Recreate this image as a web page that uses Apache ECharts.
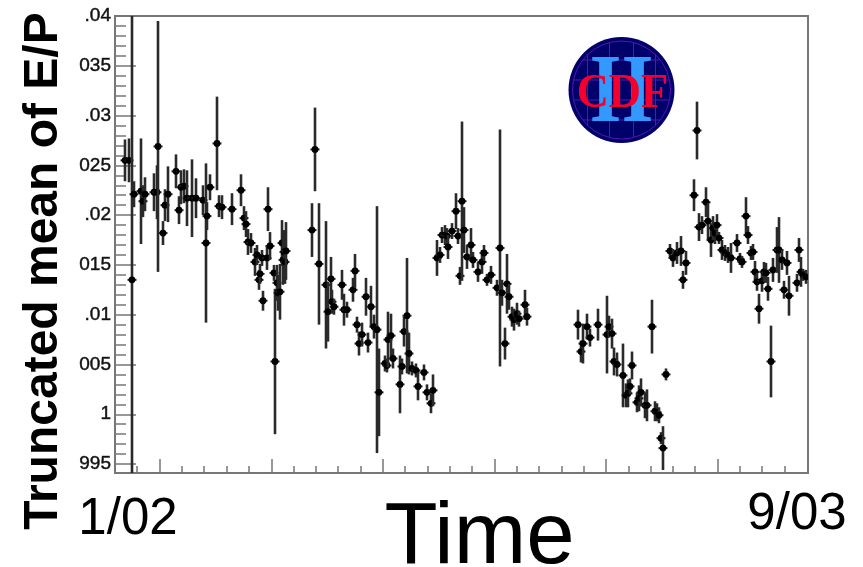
<!DOCTYPE html>
<html>
<head>
<meta charset="utf-8">
<script src="https://cdn.jsdelivr.net/npm/echarts@6/dist/echarts.min.js"></script>
<style>html,body{margin:0;padding:0;background:#fff}#c{width:863px;height:567px}</style>
</head>
<body>
<div id="c"></div>
<script>
// Time since the start of the axis range, in days
const days = [10,14,17,19,26,28,30,39,42,43,48,50,53,61,64,66,69,72,77,81,88,91,92,95,102,104,107,117,126,129,131,133,136,140,142,144,145,147,148,152,153,155,159,160,162,163,165,167,168,169,170,171,
197,200,204,211,213,216,217,219,227,229,232,238,240,242,244,247,251,253,256,259,262,264,270,272,273,276,278,285,287,289,292,294,297,301,303,309,312,316,318,
322,325,327,330,332,333,337,341,343,345,347,349,352,356,358,363,367,369,372,376,382,385,387,390,392,394,397,399,402,404,410,412,
463,466,468,472,475,483,492,494,497,499,502,508,511,513,515,517,522,524,526,530,532,537,540,542,544,546,548,551,
555,558,562,566,568,571,579,582,584,587,591,593,596,598,600,602,604,607,610,613,616,622,625,627,631,633,636,638,640,642,644,647,649,651,653,656,658,662,664,667,669,672,674,682,684,686,688,691];
// Truncated mean of E/P
const truncatedMean = [1.0255,1.0255,1.0135,1.0221,1.0224,1.0214,1.0221,1.0223,1.0223,1.0269,1.0182,1.0210,1.0221,1.0244,1.0205,1.0228,1.0229,1.0217,1.0217,1.0217,1.0215,1.0172,1.0199,1.0228,1.0272,1.0209,1.0208,1.0206,1.0225,1.0197,1.0191,1.0173,1.0172,1.0153,1.0160,1.0135,1.0141,1.0157,1.0114,1.0157,1.0206,1.0169,1.0142,1.0053,1.0132,1.0122,1.0123,1.0172,1.0155,1.0163,1.0153,1.0164,
1.0185,1.0266,1.0151,1.0130,1.0103,1.0136,1.0113,1.0108,1.0130,1.0105,1.0105,1.0125,1.0144,1.0090,1.0071,1.0080,1.0118,1.0072,1.0108,1.0088,1.0085,1.0022,1.0051,1.0049,1.0075,1.0079,1.0056,1.0030,1.0048,1.0083,1.0099,1.0061,1.0046,1.0044,1.0028,1.0042,1.0022,1.0011,1.0024,
1.0157,1.0160,1.0180,1.0180,1.0179,1.0168,1.0184,1.0204,1.0179,1.0139,1.0214,1.0185,1.0158,1.0170,1.0155,1.0143,1.0153,1.0162,1.0135,1.0140,1.0127,1.0167,1.0122,1.0071,1.0131,1.0118,1.0098,1.0095,1.0101,1.0096,1.0110,1.0098,
1.0090,1.0063,1.0071,1.0088,1.0077,1.0090,1.0080,1.0088,1.0081,1.0053,1.0050,1.0039,1.0019,1.0021,1.0028,1.0049,1.0012,1.0016,1.0022,1.0009,1.0009,1.0088,1.0003,1.0002,0.9999,0.9976,0.9966,1.0040,
1.0164,1.0157,1.0162,1.0164,1.0135,1.0152,1.0220,1.0285,1.0188,1.0190,1.0213,1.0194,1.0175,1.0187,1.0182,1.0190,1.0177,1.0165,1.0162,1.0160,1.0157,1.0172,1.0156,1.0153,1.0199,1.0180,1.0162,1.0163,1.0143,1.0133,1.0106,1.0134,1.0143,1.0142,1.0126,1.0053,1.0145,1.0165,1.0165,1.0155,1.0125,1.0152,1.0119,1.0132,1.0165,1.0143,1.0140,1.0138];
// Symmetric error on the mean
const errors = [.0021,.0022,.0266,.0013,.0053,.0016,.0017,.0019,.0027,.0126,.0012,.0016,.0028,.0017,.0014,.0017,.0017,.0028,.0039,.0020,.0015,.0080,.0014,.0013,.0047,.0011,.0012,.0016,.0016,.0012,.0013,.0013,.0010,.0014,.0010,.0010,.0010,.0008,.0010,.0012,.0022,.0014,.0008,.0073,.0018,.0018,.0028,.0023,.0025,.0022,.0022,.0029,
.0027,.0042,.0061,.0064,.0030,.0022,.0012,.0008,.0015,.0016,.0008,.0012,.0017,.0008,.0012,.0012,.0019,.0010,.0021,.0012,.0124,.0044,.0008,.0007,.0028,.0022,.0010,.0029,.0008,.0015,.0058,.0021,.0007,.0007,.0014,.0008,.0008,.0010,.0016,
.0018,.0008,.0008,.0010,.0008,.0012,.0008,.0018,.0008,.0009,.0080,.0023,.0012,.0017,.0008,.0010,.0012,.0008,.0006,.0009,.0008,.0119,.0013,.0016,.0030,.0013,.0010,.0011,.0011,.0008,.0015,.0009,
.0015,.0011,.0020,.0013,.0009,.0016,.0039,.0011,.0015,.0014,.0012,.0032,.0012,.0014,.0008,.0014,.0010,.0013,.0014,.0013,.0016,.0027,.0010,.0009,.0008,.0006,.0022,.0006,
.0007,.0009,.0011,.0015,.0009,.0012,.0016,.0029,.0014,.0009,.0015,.0018,.0017,.0012,.0011,.0011,.0006,.0010,.0008,.0008,.0015,.0009,.0006,.0006,.0019,.0009,.0007,.0008,.0011,.0009,.0015,.0011,.0010,.0010,.0012,.0036,.0012,.0023,.0033,.0010,.0009,.0012,.0020,.0009,.0012,.0015,.0006,.0007];
const yTickValues = [0.995,1,1.005,1.01,1.015,1.02,1.025,1.03,1.035,1.04];
const yTickLabels = ['995','1','005','.01','015','.02','025','.03','035','.04'];
const xMajorTicks = [45,157,268,380,491,603];
const xMinorTicks = [22,67,89,112,134,179,201,223,246,290,313,335,357,402,424,447,469,514,536,558,580,625,647,670];
const xLabelValues = [13,682];
const xLabelTexts = ['1/02','9/03'];
const yMinorTicks = [];
for (let i = 0; i < 9; i++) for (let j = 1; j < 5; j++) yMinorTicks.push(+(0.995 + i * 0.005 + j * 0.001).toFixed(3));

const frame = '#777777';
const ink = '#2a2a2a';
const chart = echarts.init(document.getElementById('c'), null, {renderer: 'canvas'});

function renderErr(params, api) {
  const x = api.value(0), y = api.value(1), e = api.value(2);
  const c = api.coord([x, y]), hi = api.coord([x, y + e]), lo = api.coord([x, y - e]);
  const s = {stroke: ink, lineWidth: 2.6};
  return {type: 'group', children: [
    {type: 'line', shape: {x1: c[0], y1: hi[1], x2: c[0], y2: lo[1]}, style: s},
    {type: 'line', shape: {x1: c[0] - 4.5, y1: c[1], x2: c[0] + 4.5, y2: c[1]}, style: {stroke: ink, lineWidth: 2}},
    {type: 'circle', shape: {cx: c[0], cy: c[1], r: 3.4}, style: {fill: '#000'}}
  ]};
}

const logoX = 621.5, logoY = 90, logoR = 53;
const purple = '#5a12b0';
const logoChildren = [
  {type: 'circle', shape: {cx: logoX, cy: logoY, r: logoR}, style: {fill: '#00006a'}},
  {type: 'circle', shape: {cx: logoX, cy: logoY, r: logoR - 4}, style: {fill: 'none', stroke: purple, lineWidth: 1}}
];
[-34, -12, 12, 34].forEach(d => logoChildren.push({type: 'line', shape: {x1: logoX + d, y1: logoY - Math.sqrt(2400 - d * d), x2: logoX + d, y2: logoY + Math.sqrt(2400 - d * d)}, style: {stroke: purple, lineWidth: 1}}));
[-30, -10, 10, 30].forEach(d => logoChildren.push({type: 'line', shape: {x1: logoX - Math.sqrt(2400 - d * d), y1: logoY + d, x2: logoX + Math.sqrt(2400 - d * d), y2: logoY + d}, style: {stroke: purple, lineWidth: 1}}));
logoChildren.push({type: 'text', x: logoX, y: logoY + 6, scaleX: 0.84, style: {text: 'II', fill: '#3399ff', font: 'bold 98px "Liberation Serif"', align: 'center', verticalAlign: 'middle'}});
logoChildren.push({type: 'text', x: logoX + 1, y: logoY + 5, scaleX: 0.93, style: {text: 'CDF', fill: '#f5002d', font: 'bold 48px "Liberation Serif"', align: 'center', verticalAlign: 'middle'}});

chart.setOption({
  animation: false,
  backgroundColor: '#ffffff',
  grid: {left: 115, right: 55, top: 16, bottom: 94, outerBoundsMode: 'none', show: true, borderColor: frame, borderWidth: 2, backgroundColor: 'transparent'},
  xAxis: [
    {type: 'value', min: 0, max: 693, splitLine: {show: false},
     name: 'Time', nameLocation: 'middle', nameGap: 23, nameMoveOverlap: false,
     nameTextStyle: {fontFamily: 'Liberation Sans', fontSize: 87, color: '#000', padding: [0, 0, 0, 36]},
     axisLine: {lineStyle: {color: frame, width: 2}},
     axisTick: {inside: true, length: 14, customValues: xMajorTicks, lineStyle: {color: frame, width: 1.5}},
     axisLabel: {customValues: xLabelValues, margin: 16, fontFamily: 'Liberation Sans', fontSize: 51, color: '#000', showMinLabel: true, showMaxLabel: true, hideOverlap: false,
       rich: {low: {fontFamily: 'Liberation Sans', fontSize: 51, color: '#000', padding: [5, 0, 0, 0]}, high: {fontFamily: 'Liberation Sans', fontSize: 51, color: '#000'}},
       formatter: v => { const i = xLabelValues.indexOf(v); return i < 0 ? '' : '{' + (i === 0 ? 'low' : 'high') + '|' + xLabelTexts[i] + '}'; }}},
    {type: 'value', min: 0, max: 693, position: 'bottom', splitLine: {show: false}, axisLine: {show: false},
     axisTick: {inside: true, length: 7, customValues: xMinorTicks, lineStyle: {color: frame, width: 1.5}},
     axisLabel: {show: false}}
  ],
  yAxis: [
    {type: 'value', min: 0.9941, max: 1.04, splitLine: {show: false},
     name: 'Truncated mean of E/P', nameLocation: 'middle', nameGap: 47, nameRotate: 90, nameMoveOverlap: false,
     nameTextStyle: {fontFamily: 'Liberation Sans', fontWeight: 'bold', fontSize: 48, color: '#000', padding: [0, 53, 0, 0]},
     axisLine: {lineStyle: {color: frame, width: 2}},
     axisTick: {inside: true, length: 21, customValues: yTickValues, lineStyle: {color: frame, width: 1.5}},
     axisLabel: {customValues: yTickValues, margin: 4, fontFamily: 'Liberation Sans', fontSize: 19, color: '#111', textBorderColor: '#333', textBorderWidth: 0.5, showMinLabel: true, showMaxLabel: true, hideOverlap: false,
       formatter: v => { const i = yTickValues.findIndex(t => Math.abs(t - v) < 1e-6); return i < 0 ? '' : yTickLabels[i]; }}},
    {type: 'value', min: 0.9941, max: 1.04, position: 'left', splitLine: {show: false}, axisLine: {show: false},
     axisTick: {inside: true, length: 11, customValues: yMinorTicks, lineStyle: {color: frame, width: 1.5}},
     axisLabel: {show: false}}
  ],
  series: [{
    type: 'custom', clip: true, renderItem: renderErr,
    encode: {x: 0, y: 1},
    data: days.map((d, i) => [d, truncatedMean[i], errors[i]])
  }],
  graphic: [{type: 'group', z: 20, children: logoChildren}]
});
</script>
</body>
</html>
